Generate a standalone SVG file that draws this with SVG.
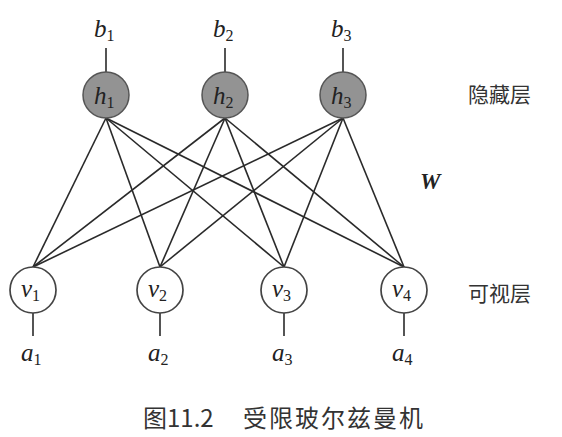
<svg xmlns="http://www.w3.org/2000/svg" width="562" height="437" viewBox="0 0 562 437">
<style>
.edge{stroke:#2a2a2a;stroke-width:1.6;fill:none}
.hid{fill:#939393;stroke:#555;stroke-width:1.5}
.vis{fill:#fff;stroke:#444;stroke-width:1.7}
.m{font-family:"Liberation Serif","DejaVu Serif",serif;font-style:italic;font-size:25px;fill:#222}
.s{font-style:normal;font-size:16px}
.zh{font-family:"Noto Sans CJK SC","Noto Sans",sans-serif;font-size:21px;fill:#333}
.cap{font-family:"Noto Sans CJK SC","Noto Sans",sans-serif;font-size:24px;fill:#333}
</style>
<rect width="562" height="437" fill="#fff"/>
<g id="connectors">
<line class="edge" x1="106" y1="118" x2="33" y2="267"/>
<line class="edge" x1="106" y1="118" x2="160" y2="267"/>
<line class="edge" x1="106" y1="118" x2="284" y2="267"/>
<line class="edge" x1="106" y1="118" x2="404" y2="267"/>
<line class="edge" x1="225" y1="118" x2="33" y2="267"/>
<line class="edge" x1="225" y1="118" x2="160" y2="267"/>
<line class="edge" x1="225" y1="118" x2="284" y2="267"/>
<line class="edge" x1="225" y1="118" x2="404" y2="267"/>
<line class="edge" x1="343" y1="118" x2="33" y2="267"/>
<line class="edge" x1="343" y1="118" x2="160" y2="267"/>
<line class="edge" x1="343" y1="118" x2="284" y2="267"/>
<line class="edge" x1="343" y1="118" x2="404" y2="267"/>
<line class="edge" x1="106" y1="48" x2="106" y2="72"/>
<line class="edge" x1="225" y1="48" x2="225" y2="72"/>
<line class="edge" x1="343" y1="48" x2="343" y2="72"/>
<line class="edge" x1="33" y1="313" x2="33" y2="336"/>
<line class="edge" x1="160" y1="313" x2="160" y2="336"/>
<line class="edge" x1="284" y1="313" x2="284" y2="336"/>
<line class="edge" x1="404" y1="313" x2="404" y2="336"/>
</g>
<g id="h1"><circle class="hid" cx="106" cy="95" r="23"/><text class="m" x="94" y="104">h<tspan class="s" dy="4">1</tspan></text><text class="m" x="94" y="37">b<tspan class="s" dy="4">1</tspan></text></g>
<g id="h2"><circle class="hid" cx="225" cy="95" r="23"/><text class="m" x="213" y="104">h<tspan class="s" dy="4">2</tspan></text><text class="m" x="213" y="37">b<tspan class="s" dy="4">2</tspan></text></g>
<g id="h3"><circle class="hid" cx="343" cy="95" r="23"/><text class="m" x="331" y="104">h<tspan class="s" dy="4">3</tspan></text><text class="m" x="331" y="37">b<tspan class="s" dy="4">3</tspan></text></g>
<g id="v1"><circle class="vis" cx="33" cy="290" r="23"/><text class="m" x="21" y="297">v<tspan class="s" dy="4">1</tspan></text><text class="m" x="21" y="361">a<tspan class="s" dy="4">1</tspan></text></g>
<g id="v2"><circle class="vis" cx="160" cy="290" r="23"/><text class="m" x="148" y="297">v<tspan class="s" dy="4">2</tspan></text><text class="m" x="148" y="361">a<tspan class="s" dy="4">2</tspan></text></g>
<g id="v3"><circle class="vis" cx="284" cy="290" r="23"/><text class="m" x="272" y="297">v<tspan class="s" dy="4">3</tspan></text><text class="m" x="272" y="361">a<tspan class="s" dy="4">3</tspan></text></g>
<g id="v4"><circle class="vis" cx="404" cy="290" r="23"/><text class="m" x="392" y="297">v<tspan class="s" dy="4">4</tspan></text><text class="m" x="392" y="361">a<tspan class="s" dy="4">4</tspan></text></g>
<text class="zh" x="468" y="102">隐藏层</text>
<text x="420" y="189" font-family="Liberation Serif,serif" font-style="italic" font-weight="bold" font-size="23" fill="#222">W</text>
<text class="zh" x="468" y="301">可视层</text>
<text class="cap" x="143" y="427">图11.2</text>
<text class="cap" x="243" y="427" letter-spacing="2">受限玻尔兹曼机</text>
</svg>
